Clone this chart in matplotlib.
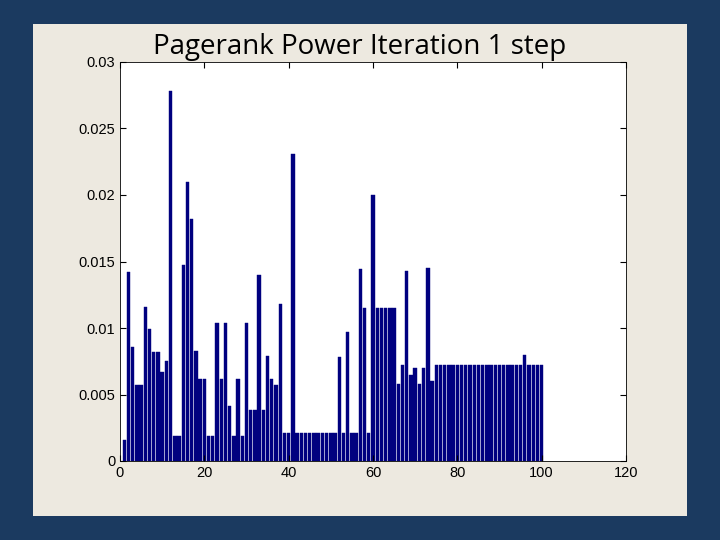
import matplotlib
matplotlib.use("Agg")
import matplotlib.pyplot as plt

nodes = list(range(1, 101))
ranks = [0.0016, 0.0142, 0.0086, 0.0057, 0.0057, 0.0116, 0.0099, 0.0082, 0.0082, 0.0067,
         0.0075, 0.0278, 0.0019, 0.0019, 0.0147, 0.0210, 0.0182, 0.0083, 0.0062, 0.0062,
         0.0019, 0.0019, 0.0104, 0.0062, 0.0104, 0.0041, 0.0019, 0.0062, 0.0019, 0.0104,
         0.0038, 0.0038, 0.0140, 0.0038, 0.0079, 0.0062, 0.0057, 0.0118, 0.0021, 0.0021,
         0.0231, 0.0021, 0.0021, 0.0021, 0.0021, 0.0021, 0.0021, 0.0021, 0.0021, 0.0021,
         0.0021, 0.0078, 0.0021, 0.0097, 0.0021, 0.0021, 0.0144, 0.0115, 0.0021, 0.0200,
         0.0115, 0.0115, 0.0115, 0.0115, 0.0115, 0.0058, 0.0072, 0.0143, 0.0065, 0.0070,
         0.0058, 0.0070, 0.0145, 0.0060] + [0.0072] * 26
ranks[95] = 0.0080

fig = plt.figure(figsize=(7.2, 5.4), dpi=100)
fig.patch.set_facecolor("#1b3a60")
bg = fig.add_axes([33/720, 1-516/540, 654/720, 492/540], zorder=0)
bg.set_facecolor("#ede9e0")
bg.set_xticks([]); bg.set_yticks([])
for s in bg.spines.values():
    s.set_visible(False)
ax = fig.add_axes([120/720, 1-461/540, 506/720, 399/540], zorder=1)
ax.bar(nodes, ranks, width=0.8, color="#00007f", edgecolor="#00007f", linewidth=0.3)
ax.set_xlim(0, 120)
ax.set_ylim(0, 0.03)
ax.set_xticks([0, 20, 40, 60, 80, 100, 120])
ax.set_yticks([0, 0.005, 0.01, 0.015, 0.02, 0.025, 0.03])
ax.set_yticklabels(["0", "0.005", "0.01", "0.015", "0.02", "0.025", "0.03"])
ax.tick_params(direction="in", labelsize=10.5, top=True, right=True, length=4)
for lab in ax.get_xticklabels() + ax.get_yticklabels():
    lab.set_family("Liberation Sans")
for s in ax.spines.values():
    s.set_linewidth(0.6)
fig.text(360/720, 1-47/540, "Pagerank Power Iteration 1 step", ha="center", va="center",
         fontsize=20, family=["Open Sans", "DejaVu Sans"], color="black", zorder=3)
fig.savefig("out.png", dpi=100, facecolor=fig.get_facecolor())
